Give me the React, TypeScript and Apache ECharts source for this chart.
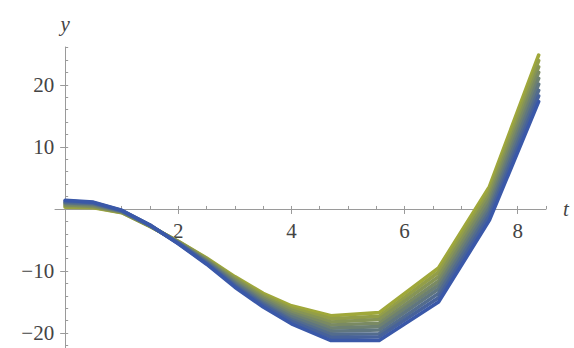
import React, { useEffect, useRef } from "react";
import * as echarts from "echarts";

// sample times along t
const tValues = [0, 0.5, 1, 1.5, 2, 2.5, 3, 3.5, 4, 4.7, 5.55, 6.6, 7.5, 8.37];

// family of curves, from the yellow-green one (top of band) to the blue one
const curve1 = [0.3, 0.2, -0.6, -2.8, -5.2, -7.9, -10.9, -13.6, -15.6, -17.2, -16.7, -9.5, 3.6, 24.8];
const curve2 = [0.4, 0.3, -0.55, -2.8, -5.25, -8.0, -11.1, -13.9, -16.0, -17.7, -17.3, -10.2, 2.9, 23.9];
const curve3 = [0.6, 0.4, -0.5, -2.75, -5.3, -8.15, -11.3, -14.15, -16.3, -18.2, -17.8, -10.9, 2.25, 22.9];
const curve4 = [0.7, 0.5, -0.45, -2.7, -5.35, -8.3, -11.5, -14.4, -16.7, -18.7, -18.4, -11.6, 1.6, 22.0];
const curve5 = [0.9, 0.65, -0.4, -2.7, -5.4, -8.4, -11.75, -14.7, -17.05, -19.2, -18.95, -12.25, 0.9, 21.05];
const curve6 = [1.0, 0.8, -0.35, -2.7, -5.45, -8.5, -11.95, -15.0, -17.4, -19.7, -19.5, -12.9, 0.2, 20.1];
const curve7 = [1.1, 0.9, -0.3, -2.65, -5.5, -8.65, -12.2, -15.25, -17.8, -20.2, -20.1, -13.6, -0.45, 19.1];
const curve8 = [1.3, 1.0, -0.25, -2.6, -5.55, -8.8, -12.4, -15.5, -18.1, -20.7, -20.6, -14.3, -1.1, 18.2];
const curve9 = [1.4, 1.1, -0.2, -2.6, -5.6, -8.9, -12.6, -15.8, -18.5, -21.2, -21.2, -15.0, -1.8, 17.3];

const curves = [curve1, curve2, curve3, curve4, curve5, curve6, curve7, curve8, curve9];

// ticks
const xMajorTicks = [2, 4, 6, 8];
const xMinorTicks = [0.5, 1, 1.5, 2, 2.5, 3, 3.5, 4, 4.5, 5, 5.5, 6, 6.5, 7, 7.5, 8, 8.5];
const yMajorTicks = [-20, -10, 10, 20];
const yMinorTicks = [-22, -20, -18, -16, -14, -12, -10, -8, -6, -4, -2, 2, 4, 6, 8, 10, 12, 14, 16, 18, 20, 22, 24, 26];

const colors = [
  "#a0a83a",
  "#939e48",
  "#869456",
  "#7a8a63",
  "#6d8071",
  "#60767f",
  "#536c8d",
  "#47629a",
  "#3a58a8",
];

const SERIF = "'Liberation Serif', 'DejaVu Serif', serif";
const AXIS_COLOR = "#9a9a9a";
const LABEL_COLOR = "#444444";

const fmt = (v: number) => (v < 0 ? "\u2212" + String(-v) : String(v));

const W = 574;
const H = 348;
const GRID = { left: 55, right: 28, top: 47, bottom: 0 };
const X_MIN = -0.18;
const X_MAX = 8.5;
const Y_MIN = -22.4;
const Y_MAX = 26.1;

export default function App() {
  const ref = useRef<HTMLDivElement>(null);

  useEffect(() => {
    if (!ref.current) return;
    const chart = echarts.init(ref.current, undefined, { renderer: "svg" });

    // pixel position of the zero lines, used only to offset label-only axes
    const plotW = W - GRID.left - GRID.right;
    const plotH = H - GRID.top - GRID.bottom;
    const zeroXpx = ((0 - X_MIN) / (X_MAX - X_MIN)) * plotW; // from grid left
    const zeroYpx = ((0 - Y_MIN) / (Y_MAX - Y_MIN)) * plotH; // from grid bottom

    const labelStyle = { fontFamily: SERIF, fontSize: 21, color: LABEL_COLOR, formatter: fmt };

    chart.setOption({
      animation: false,
      backgroundColor: "#ffffff",
      grid: { ...GRID, containLabel: false, outerBoundsMode: "none" },
      xAxis: [
        {
          type: "value",
          min: X_MIN,
          max: X_MAX,
          name: "t",
          nameLocation: "end",
          nameGap: 17,
          nameTextStyle: { fontFamily: SERIF, fontStyle: "italic", fontSize: 21, color: LABEL_COLOR },
          axisLine: { show: true, onZero: true, lineStyle: { color: AXIS_COLOR, width: 1 } },
          axisTick: { show: true, inside: true, length: 3, customValues: xMinorTicks, lineStyle: { color: AXIS_COLOR } },
          axisLabel: { show: false },
          splitLine: { show: false },
        },
        {
          type: "value",
          min: X_MIN,
          max: X_MAX,
          axisLine: { show: false, onZero: true },
          axisTick: { show: true, inside: true, length: 5, customValues: xMajorTicks, lineStyle: { color: AXIS_COLOR } },
          axisLabel: { show: false },
          splitLine: { show: false },
        },
        {
          type: "value",
          min: X_MIN,
          max: X_MAX,
          position: "bottom",
          offset: -zeroYpx,
          axisLine: { show: false, onZero: false },
          axisTick: { show: false },
          axisLabel: { show: true, customValues: xMajorTicks, margin: 12, ...labelStyle },
          splitLine: { show: false },
        },
      ],
      yAxis: [
        {
          type: "value",
          min: Y_MIN,
          max: Y_MAX,
          name: "y",
          nameLocation: "end",
          nameGap: 13,
          nameTextStyle: { fontFamily: SERIF, fontStyle: "italic", fontSize: 21, color: LABEL_COLOR },
          axisLine: { show: true, onZero: true, lineStyle: { color: AXIS_COLOR, width: 1 } },
          axisTick: { show: true, inside: true, length: 3, customValues: yMinorTicks, lineStyle: { color: AXIS_COLOR } },
          axisLabel: { show: false },
          splitLine: { show: false },
        },
        {
          type: "value",
          min: Y_MIN,
          max: Y_MAX,
          axisLine: { show: false, onZero: true },
          axisTick: { show: true, inside: true, length: 5, customValues: yMajorTicks, lineStyle: { color: AXIS_COLOR } },
          axisLabel: { show: false },
          splitLine: { show: false },
        },
        {
          type: "value",
          min: Y_MIN,
          max: Y_MAX,
          position: "left",
          offset: -zeroXpx,
          axisLine: { show: false, onZero: false },
          axisTick: { show: false },
          axisLabel: { show: true, customValues: yMajorTicks, margin: 11, ...labelStyle },
          splitLine: { show: false },
        },
      ],
      series: curves.map((c, i) => ({
        type: "line",
        xAxisIndex: 0,
        yAxisIndex: 0,
        data: tValues.map((t, k) => [t, c[k]]),
        showSymbol: false,
        symbol: "none",
        smooth: false,
        clip: false,
        lineStyle: { color: colors[i], width: 3.6, cap: "round", join: "round" },
        z: 3 + i,
      })),
    });
    return () => chart.dispose();
  }, []);

  return (
    <div
      ref={ref}
      style={{ position: "absolute", left: 0, top: 0, width: W, height: H, background: "#fff" }}
    />
  );
}
